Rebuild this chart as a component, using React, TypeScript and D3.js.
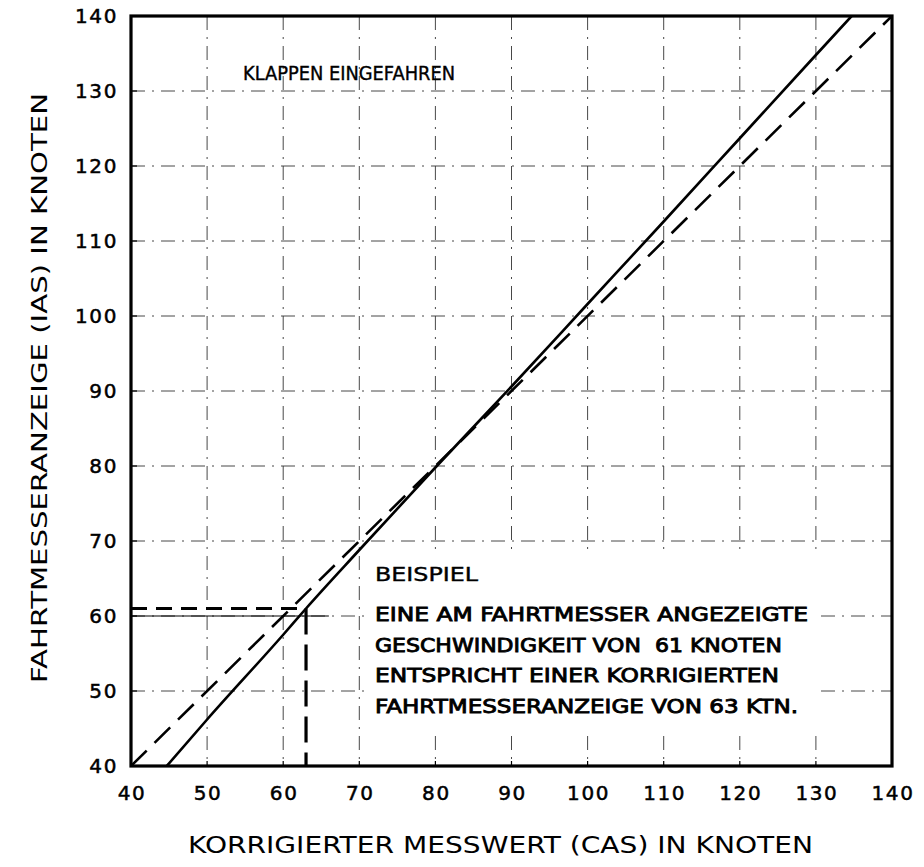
import React from "react";
import * as d3 from "d3";

const xTicks = [40, 50, 60, 70, 80, 90, 100, 110, 120, 130, 140];
const yTicks = [40, 50, 60, 70, 80, 90, 100, 110, 120, 130, 140];
const gridValues = [50, 60, 70, 80, 90, 100, 110, 120, 130];

// Solid curve: CAS (x) vs IAS (y)
const casSolid = [44.7, 50, 60, 63, 70, 80, 90, 100, 110, 120, 130, 134.7];
const iasSolid = [40, 46.2, 57.5, 61, 68.8, 79.8, 90.6, 101.6, 112.6, 123.7, 134.8, 140];

// Dashed reference line (CAS = IAS)
const casDashed = [40, 140];
const iasDashed = [40, 140];

// Example: 61 IAS -> 63 CAS
const exampleIAS = 61;
const exampleCAS = 63;

const titleText = "KLAPPEN EINGEFAHREN";
const exampleHeading = "BEISPIEL";
const exampleLines = [
  "EINE AM FAHRTMESSER ANGEZEIGTE",
  "GESCHWINDIGKEIT VON  61 KNOTEN",
  "ENTSPRICHT EINER KORRIGIERTEN",
  "FAHRTMESSERANZEIGE VON 63 KTN.",
];
const exampleLineWidths = [433, 407, 404, 423];
const xAxisTitle = "KORRIGIERTER MESSWERT (CAS) IN KNOTEN";
const yAxisTitle = "FAHRTMESSERANZEIGE (IAS) IN KNOTEN";

const W = 924;
const H = 867;
const left = 131;
const right = 892;
const top = 16;
const bottom = 766;

export default function App() {
  const x = d3.scaleLinear().domain([40, 140]).range([left, right]);
  const y = d3.scaleLinear().domain([40, 140]).range([bottom, top]);

  const line = d3
    .line<[number, number]>()
    .x((d) => x(d[0]))
    .y((d) => y(d[1]))
    .curve(d3.curveMonotoneX);

  const solidPts: [number, number][] = casSolid.map((c, i) => [c, iasSolid[i]]);
  const dashedPts: [number, number][] = casDashed.map((c, i) => [c, iasDashed[i]]);

  const font = "'DejaVu Sans', 'Liberation Sans', Arial, sans-serif";
  const grid = "#333";

  return (
    <svg
      width={W}
      height={H}
      style={{ position: "absolute", left: 0, top: 0, background: "#fff" }}
      fontFamily={font}
    >
      <rect x={0} y={0} width={W} height={H} fill="#fff" />
      <defs>
        <clipPath id="plot">
          <rect x={left} y={top} width={right - left} height={bottom - top} />
        </clipPath>
      </defs>

      {/* grid */}
      <g stroke={grid} strokeWidth={0.9} strokeDasharray="14,7,2,7" fill="none">
        {gridValues.map((v) => (
          <line key={"gx" + v} x1={x(v)} x2={x(v)} y1={y(140)} y2={y(40)} />
        ))}
        {gridValues.map((v) => (
          <line key={"gy" + v} x1={x(40)} x2={x(140)} y1={y(v)} y2={y(v)} />
        ))}
      </g>
      {/* solid portion of the 60 gridline near the example */}
      <line x1={x(40)} x2={x(66)} y1={y(60)} y2={y(60)} stroke="#000" strokeWidth={1.2} />

      {/* white box behind example text */}
      <rect x={368} y={556} width={450} height={176} fill="#fff" />

      {/* lines */}
      <g clipPath="url(#plot)">
        <path
          d={line(dashedPts) || ""}
          fill="none"
          stroke="#000"
          strokeWidth={2.6}
          strokeDasharray="22,11"
        />
        <path d={line(solidPts) || ""} fill="none" stroke="#000" strokeWidth={2.6} />
        {/* example construction lines */}
        <line
          x1={x(40)}
          x2={x(exampleCAS)}
          y1={y(exampleIAS)}
          y2={y(exampleIAS)}
          stroke="#000"
          strokeWidth={2.8}
          strokeDasharray="16,9"
        />
        <line
          x1={x(exampleCAS)}
          x2={x(exampleCAS)}
          y1={y(exampleIAS)}
          y2={y(40)}
          stroke="#000"
          strokeWidth={3.2}
          strokeDasharray="26,10"
        />
      </g>

      {/* small inward ticks */}
      <g stroke="#000" strokeWidth={1.2}>
        {xTicks.slice(1, -1).map((v) => (
          <line key={"tx" + v} x1={x(v)} x2={x(v)} y1={bottom} y2={bottom - 5} />
        ))}
        {yTicks.slice(1, -1).map((v) => (
          <line key={"ty" + v} x1={left} x2={left + 6} y1={y(v)} y2={y(v)} />
        ))}
      </g>

      {/* frame */}
      <rect
        x={left}
        y={top}
        width={right - left}
        height={bottom - top}
        fill="none"
        stroke="#000"
        strokeWidth={3.2}
      />

      {/* tick labels */}
      <g fontSize={20} fill="#000" stroke="#000" strokeWidth={0.5} letterSpacing={1.6}>
        {xTicks.map((v) => (
          <text key={"lx" + v} x={x(v) + 1} y={800} textAnchor="middle">
            {v}
          </text>
        ))}
        {yTicks.map((v) => (
          <text key={"ly" + v} x={118} y={y(v) + 7} textAnchor="end">
            {v}
          </text>
        ))}
      </g>

      {/* in-plot title */}
      <text
        x={243}
        y={80}
        fontSize={19}
        textLength={212}
        lengthAdjust="spacingAndGlyphs"
        fill="#000"
        stroke="#000"
        strokeWidth={0.4}
      >
        {titleText}
      </text>

      {/* example text */}
      <text
        x={375}
        y={581}
        fontSize={19}
        textLength={103}
        lengthAdjust="spacingAndGlyphs"
        fill="#000"
        stroke="#000"
        strokeWidth={0.4}
      >
        {exampleHeading}
      </text>
      {exampleLines.map((t, i) => (
        <text
          key={"ex" + i}
          x={375}
          y={621 + i * 30.5}
          fontSize={20}
          textLength={exampleLineWidths[i]}
          lengthAdjust="spacingAndGlyphs"
          fill="#000"
          stroke="#000"
          strokeWidth={0.9}
          style={{ whiteSpace: "pre" }}
        >
          {t}
        </text>
      ))}

      {/* axis titles */}
      <text
        x={188}
        y={853}
        fontSize={23}
        textLength={625}
        lengthAdjust="spacingAndGlyphs"
        fill="#000"
      >
        {xAxisTitle}
      </text>
      <text
        transform={`translate(47, ${388}) rotate(-90)`}
        textAnchor="middle"
        fontSize={22}
        textLength={590}
        lengthAdjust="spacingAndGlyphs"
        fill="#000"
      >
        {yAxisTitle}
      </text>
    </svg>
  );
}
